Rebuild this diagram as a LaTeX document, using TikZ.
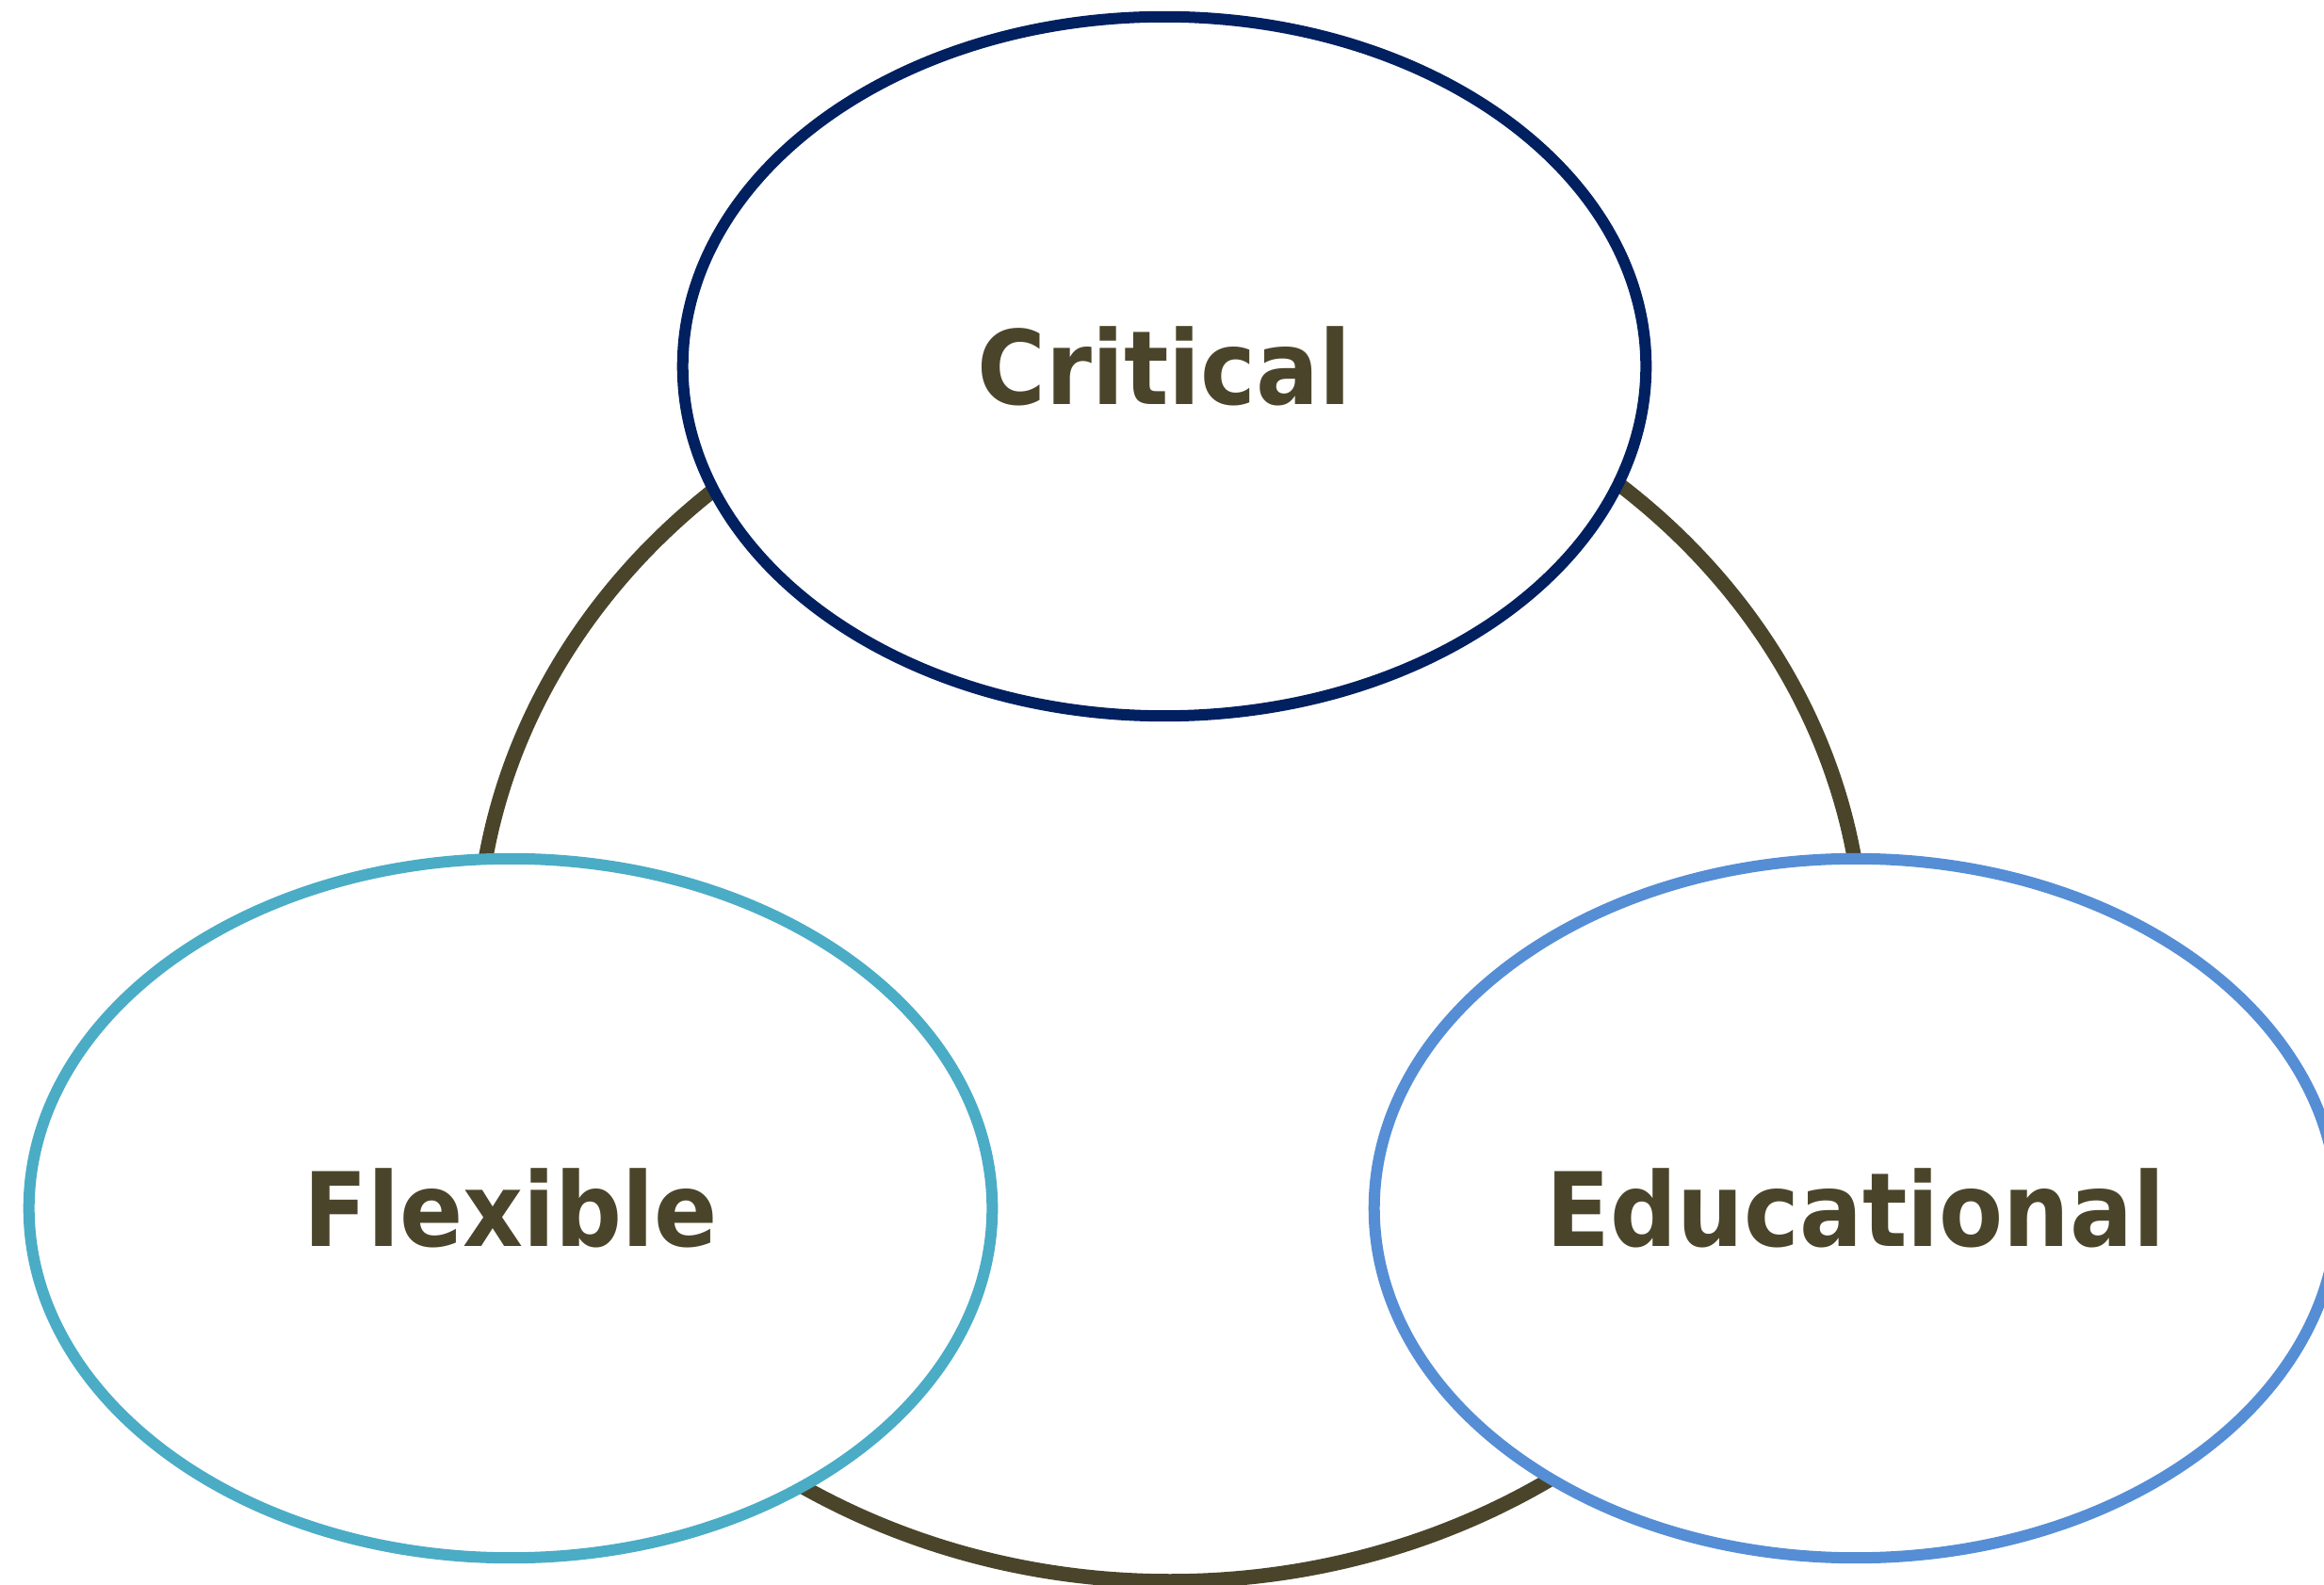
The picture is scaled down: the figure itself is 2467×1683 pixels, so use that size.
\documentclass[tikz,border=0pt]{standalone}
\usepackage{fontspec}
\newfontfamily\lblfont{DejaVu Sans}[FakeStretch=0.91]
\usetikzlibrary{shapes.geometric}
\definecolor{ringcol}{RGB}{74,69,42}
\definecolor{txtcol}{RGB}{74,69,42}
\definecolor{navycol}{RGB}{0,32,96}
\definecolor{tealcol}{RGB}{75,172,198}
\definecolor{bluecol}{RGB}{85,142,213}
\begin{document}
\begin{tikzpicture}[x=0.01cm,y=-0.01cm,
  bubble/.style={ellipse, draw, fill=white, line width=0.12cm,
    minimum width=10.22cm, minimum height=7.42cm, inner sep=0pt,
    font=\lblfont\bfseries\fontsize{31}{31}\selectfont, text=txtcol},
  ring/.style={draw=ringcol, line width=0.155cm}]
\useasboundingbox (0,0) rectangle (2467,1683);
\path[ring] (1242,1018) ellipse [x radius=736, y radius=661];
\node[bubble, draw=navycol] (critical) at (1236,389) {Critical};
\node[bubble, draw=tealcol] (flexible) at (542,1283) {Flexible};
\node[bubble, draw=bluecol] (educational) at (1970,1283) {Educational};
\end{tikzpicture}
\end{document}
